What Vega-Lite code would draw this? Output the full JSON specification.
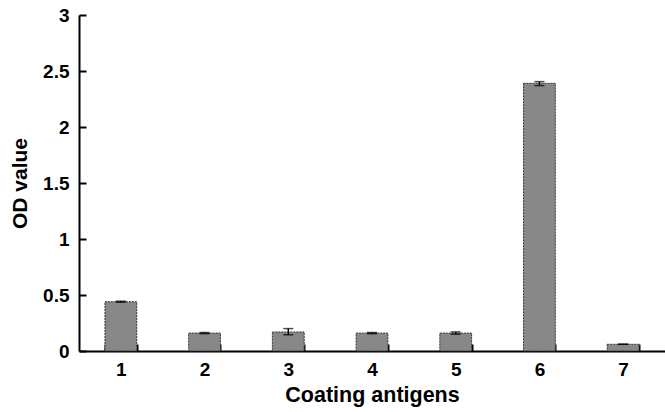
{
  "$schema": "https://vega.github.io/schema/vega-lite/v6.json",
  "width": 586,
  "height": 336,
  "autosize": {"type": "none"},
  "padding": {"left": 79, "top": 15, "right": 0, "bottom": 61},
  "background": "white",
  "config": {
    "view": {"stroke": null},
    "font": "Liberation Sans"
  },
  "data": {
    "values": [
      {"antigen": "1", "od": 0.44, "lo": 0.435, "hi": 0.445},
      {"antigen": "2", "od": 0.16, "lo": 0.155, "hi": 0.165},
      {"antigen": "3", "od": 0.17, "lo": 0.145, "hi": 0.2},
      {"antigen": "4", "od": 0.16, "lo": 0.155, "hi": 0.165},
      {"antigen": "5", "od": 0.16, "lo": 0.15, "hi": 0.17},
      {"antigen": "6", "od": 2.39, "lo": 2.37, "hi": 2.405},
      {"antigen": "7", "od": 0.06, "lo": 0.06, "hi": 0.06}
    ]
  },
  "encoding": {
    "x": {
      "field": "antigen",
      "type": "nominal",
      "scale": {"paddingInner": 0.62, "paddingOuter": 0.31},
      "axis": {
        "title": "Coating antigens",
        "titleFontSize": 21.5,
        "titleFontWeight": "bold",
        "titleColor": "black",
        "titlePadding": 5,
        "labelAngle": 0,
        "labelFontSize": 19,
        "labelFontWeight": "bold",
        "labelColor": "black",
        "labelPadding": 16,
        "tickBand": "extent",
        "tickSize": -7,
        "tickWidth": 2,
        "tickColor": "black",
        "domainColor": "black",
        "domainWidth": 2
      }
    }
  },
  "layer": [
    {
      "mark": {"type": "bar", "fill": "#888888", "stroke": "#333333", "strokeWidth": 1, "strokeDash": [2, 1]},
      "encoding": {
        "y": {
          "field": "od",
          "type": "quantitative",
          "scale": {"domain": [0, 3]},
          "axis": {
            "title": "OD value",
            "titleFontSize": 21,
            "titleFontWeight": "bold",
            "titleColor": "black",
            "titlePadding": 12,
            "values": [0, 0.5, 1, 1.5, 2, 2.5, 3],
            "format": "~g",
            "labelFontSize": 19,
            "labelFontWeight": "bold",
            "labelColor": "black",
            "labelPadding": 17,
            "tickSize": -7,
            "tickWidth": 2,
            "tickColor": "black",
            "grid": false,
            "domainColor": "black",
            "domainWidth": 2
          }
        }
      }
    },
    {
      "mark": {"type": "rule", "color": "black", "strokeWidth": 1.5},
      "encoding": {
        "y": {"field": "lo", "type": "quantitative"},
        "y2": {"field": "hi"}
      }
    },
    {
      "mark": {"type": "tick", "color": "black", "thickness": 1.5, "size": 10},
      "encoding": {"y": {"field": "lo", "type": "quantitative"}}
    },
    {
      "mark": {"type": "tick", "color": "black", "thickness": 1.5, "size": 10},
      "encoding": {"y": {"field": "hi", "type": "quantitative"}}
    }
  ]
}
